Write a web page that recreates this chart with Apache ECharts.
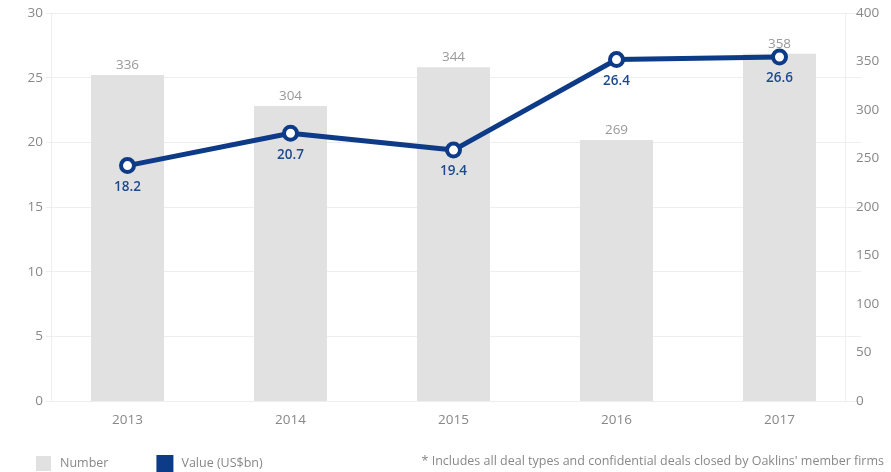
<!DOCTYPE html>
<html><head><meta charset="utf-8">
<script src="https://cdn.jsdelivr.net/npm/echarts@6/dist/echarts.min.js"></script>
<style>html,body{margin:0;padding:0;background:#fff}#c{width:891px;height:472px}</style>
</head><body><div id="c"></div>
<script>
const categories = ['2013','2014','2015','2016','2017'];
const numberDeals = [336, 304, 344, 269, 358];
const valueBn = [18.2, 20.7, 19.4, 26.4, 26.6];
const leftTicks = {min:0, max:30, interval:5};
const rightTicks = {min:0, max:400, interval:50};
const footnote = "* Includes all deal types and confidential deals closed by Oaklins' member firms";

const font = 'Open Sans';
const chart = echarts.init(document.getElementById('c'));
chart.setOption({
  animation:false,
  textStyle:{fontFamily:font},
  grid:{left:46, right:30, top:13, bottom:71},
  legend:{
    left:31, top:450, itemWidth:15, itemHeight:15, itemGap:48,
    icon:'rect',
    textStyle:{color:'#888', fontSize:12.5, fontFamily:font, padding:[0,0,0,4]},
    data:[{name:'Number', itemStyle:{color:'#e1e1e1'}},{name:'Value (US$bn)', itemStyle:{color:'#0d3b87'}}]
  },
  graphic:[{type:'text', right:7, top:455, style:{text:footnote, fill:'#888', font:'12.5px "Open Sans"'}}],
  xAxis:{type:'category', data:categories,
    axisLine:{lineStyle:{color:'#eeeeee'}}, axisTick:{show:false},
    axisLabel:{color:'#888', fontSize:13.5, margin:12}},
  yAxis:[
    {type:'value', min:leftTicks.min, max:leftTicks.max, interval:leftTicks.interval, position:'left', offset:-5,
     axisLine:{show:true, lineStyle:{color:'#eeeeee'}}, axisTick:{show:false},
     axisLabel:{color:'#888', fontSize:13.5, margin:8},
     splitLine:{lineStyle:{color:'#eeeeee'}}},
    {type:'value', min:rightTicks.min, max:rightTicks.max, interval:rightTicks.interval, position:'right', offset:-16,
     axisLine:{show:true, lineStyle:{color:'#eeeeee'}}, axisTick:{show:false},
     axisLabel:{color:'#888', fontSize:13.5, margin:11},
     splitLine:{show:false}}
  ],
  series:[
    {name:'Number', type:'bar', yAxisIndex:1, data:numberDeals, barWidth:73,
     itemStyle:{color:'#e1e1e1'},
     label:{show:true, position:'top', distance:3, color:'#999', fontSize:13.5}},
    {name:'Value (US$bn)', type:'line', yAxisIndex:0, data:valueBn,
     lineStyle:{color:'#0d3b87', width:5}, symbol:'circle', symbolSize:13,
     itemStyle:{color:'#fff', borderColor:'#0d3b87', borderWidth:4},
     label:{show:true, position:'bottom', distance:6, color:'#1d4a8f', fontSize:13.5, fontWeight:600}}
  ]
});
</script></body></html>
